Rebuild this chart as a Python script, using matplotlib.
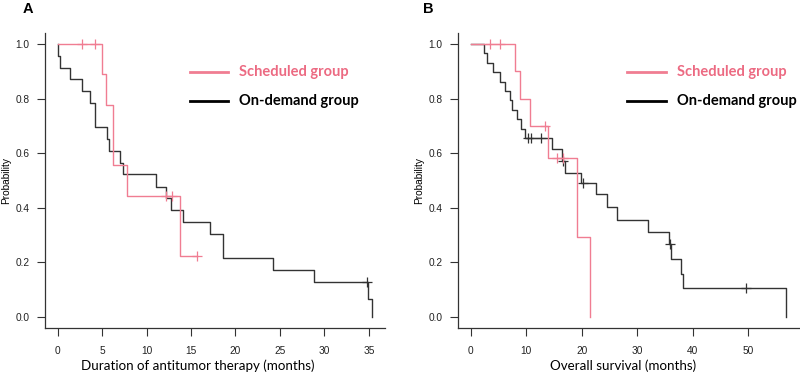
import numpy as np
import matplotlib
matplotlib.use("Agg")
import matplotlib.pyplot as plt

# panel A: duration of antitumor therapy
a_sched_t = [0, 5.0, 5.4, 6.2, 7.85, 13.8, 15.7]
a_sched_s = [1.0, 0.889, 0.778, 0.556, 0.444, 0.222, 0.222]
a_sched_c = [2.7, 4.2, 12.2, 12.9, 15.7]

a_dem_t = [0, 0.1, 0.3, 1.4, 2.7, 3.6, 4.25, 5.6, 5.8, 7.0, 7.4, 11.1, 12.2,
           12.8, 14.1, 17.1, 18.6, 24.2, 28.8, 34.9, 35.3]
a_dem_s = [1.0, 0.957, 0.913, 0.870, 0.826, 0.783, 0.696, 0.652, 0.609, 0.565,
           0.522, 0.478, 0.435, 0.391, 0.348, 0.304, 0.217, 0.174, 0.130,
           0.065, 0.0]
a_dem_c = [34.75]

# panel B: overall survival
b_sched_t = [0, 8.0, 8.9, 10.6, 13.9, 19.2, 21.4]
b_sched_s = [1.0, 0.9, 0.8, 0.7, 0.583, 0.292, 0.0]
b_sched_c = [3.4, 5.2, 13.3, 15.6, 16.7]

b_dem_t = [0, 2.4, 2.9, 4.0, 5.2, 6.25, 7.1, 7.4, 8.3, 9.1, 9.7, 14.6, 16.5,
           16.9, 19.9, 22.5, 24.6, 26.4, 32.0, 35.7, 36.1, 37.8, 38.2, 56.8]
b_dem_s = [1.0, 0.966, 0.931, 0.897, 0.862, 0.828, 0.793, 0.759, 0.724, 0.690,
           0.655, 0.614, 0.573, 0.529, 0.490, 0.449, 0.402, 0.356, 0.312,
           0.266, 0.213, 0.158, 0.105, 0.0]
b_dem_c = [10.25, 10.9, 12.7, 16.7, 20.3, 35.9, 49.6]

pink = '#f07d92'
pink_txt = '#ec6a82'
dark = '#333333'

plt.rcParams['font.family'] = ['Liberation Sans', 'DejaVu Sans']

fig = plt.figure(figsize=(8, 3.72), dpi=100)
axA = fig.add_axes([0.05625, 0.1183, 0.425, 0.793])
axB = fig.add_axes([0.5725, 0.1183, 0.4275, 0.793])


def km(ax, t, s, c, color):
    ax.step(t, s, where='post', color=color, lw=1.0)
    cy = [s[np.searchsorted(t, x, side='right') - 1] for x in c]
    ax.plot(c, cy, ls='none', marker='+', ms=7, mew=0.9, color=color)


def style(ax, xmax, xticks, xlabel, xlab_pos):
    ax.set_xlim(-0.04 * xmax, xmax * 1.04)
    ax.set_ylim(-0.04, 1.04)
    ax.set_xticks(xticks)
    ax.set_yticks([0, 0.2, 0.4, 0.6, 0.8, 1.0])
    ax.set_yticklabels(['0.0', '0.2', '0.4', '0.6', '0.8', '1.0'])
    for sp in ['top', 'right']:
        ax.spines[sp].set_visible(False)
    for sp in ['left', 'bottom']:
        ax.spines[sp].set_color(dark)
        ax.spines[sp].set_linewidth(0.9)
    ax.tick_params(length=6, width=0.8, color=dark, labelsize=7.3,
                   labelcolor='#222222', pad=5)
    ax.tick_params(axis='x', pad=7)
    ax.set_ylabel('Probability', fontsize=7.3, labelpad=3)
    ax.set_xlabel(xlabel, fontsize=9.6, family='Lato', labelpad=3)
    ax.xaxis.set_label_coords(xlab_pos, -0.105)


def legend(ax, x0):
    ax.plot([x0, x0 + 0.113], [0.868, 0.868], color=pink, lw=2,
            transform=ax.transAxes, clip_on=False)
    ax.plot([x0, x0 + 0.113], [0.769, 0.769], color='black', lw=2,
            transform=ax.transAxes, clip_on=False)
    ax.text(x0 + 0.145, 0.868, 'Scheduled group', color=pink_txt,
            family='Lato', fontweight='bold', fontsize=10.5, va='center',
            transform=ax.transAxes)
    ax.text(x0 + 0.145, 0.769, 'On-demand group', color='black',
            family='Lato', fontweight='bold', fontsize=10.5, va='center',
            transform=ax.transAxes)


km(axA, a_dem_t, a_dem_s, a_dem_c, dark)
km(axA, a_sched_t, a_sched_s, a_sched_c, pink)
style(axA, 35.4, [0, 5, 10, 15, 20, 25, 30, 35],
      'Duration of antitumor therapy (months)', 0.449)
legend(axA, 0.426)

km(axB, b_dem_t, b_dem_s, b_dem_c, dark)
km(axB, b_sched_t, b_sched_s, b_sched_c, pink)
style(axB, 57.0, [0, 10, 20, 30, 40, 50], 'Overall survival (months)', 0.482)
legend(axB, 0.494)

fig.text(0.035, 0.995, 'A', fontsize=10.5, fontweight='bold', va='top', ha='center')
fig.text(0.535, 0.995, 'B', fontsize=10.5, fontweight='bold', va='top', ha='center')

fig.savefig('out.png', dpi=100)
